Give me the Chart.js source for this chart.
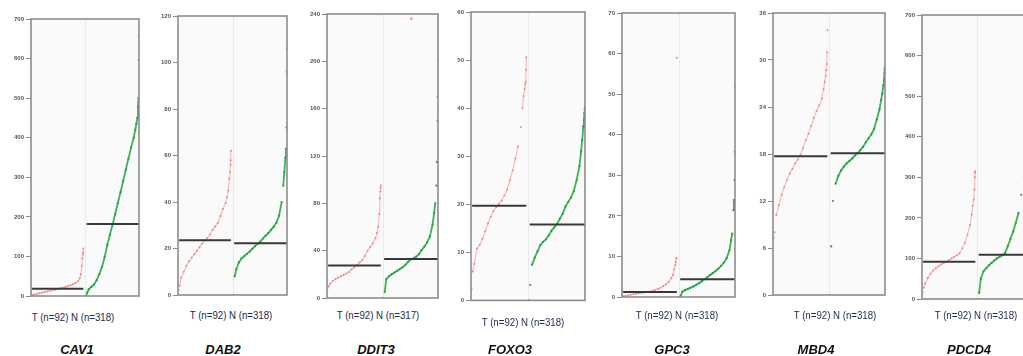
<!DOCTYPE html>
<html><head><meta charset="utf-8">
<script src="https://cdn.jsdelivr.net/npm/chart.js@4.4.1/dist/chart.umd.min.js"></script>
<style>
html,body{margin:0;padding:0;background:#fff;}
body{width:1023px;height:356px;overflow:hidden;position:relative;}
canvas{position:absolute;top:0;}
.nlab{position:absolute;font-family:"Liberation Sans",Arial,sans-serif;font-size:11.5px;color:#1d2b4a;white-space:nowrap;transform:translate(-50%,-50%) scaleX(0.84);}
.gene{position:absolute;font-family:"Liberation Sans",Arial,sans-serif;font-size:13px;font-weight:bold;font-style:italic;color:#111;white-space:nowrap;transform:translate(-50%,-50%);}
</style></head><body>
<script>
// ---------- DATA ----------
const genes = ['CAV1','DAB2','DDIT3','FOXO3','GPC3','MBD4','PDCD4'];
const tCounts = [92,92,92,92,92,92,92];
const nCounts = [318,318,317,318,318,318,318];
const yMax  = [700,120,240,60,70,36,700];
const yStep = [100,20,40,10,10,6,100];
// rank positions (fraction of sorted samples) at which values were read
const percentiles = [0,.02,.05,.1,.15,.2,.25,.3,.35,.4,.45,.5,.55,.6,.65,.7,.75,.8,.85,.9,.93,.95,.97,.98,.99,.995,1];

const cav1T  = [1,2,3,5,7,8.5,10,11.5,13,14.5,16,18,19.5,21,23,25,27,30,33,38,45,55,75,95,105,110,120];
const cav1N  = [0,8,17,23,29,40,55,73,98,128,155,180,207,235,262,290,319,347,375,400,420,435,450,478,500,597,656];
const dab2T  = [2,4,7.5,10,12.5,14.5,16,17.5,19,20.5,22,23.5,24.5,26,28,29.5,31,34,37,39.5,42,45,50,53,56,58,62];
const dab2N  = [0,8,11,14,15.8,16.7,17.7,18.7,19.8,21,22,23,24.3,25.5,26.6,28,29.3,31,34,40,47,53,59,63,72,96,106];
const ddit3T = [8.5,10,12,14.5,16,17.2,18.3,19.5,20.6,22,24,26,27.8,30,32,35.5,40,43,46,50.5,55,60,71,84,90,93,95];
const ddit3N = [0,5,16,18.4,20,21.5,23,24.5,26,28,30.5,32.5,33.5,35,37,40.5,43.5,47,52,62,72,80,95,115,150,170,201];
const foxo3T = [2.4,6,7.6,10.8,11.6,12.8,14.4,16,17.4,18.6,19.4,20,20.8,21.8,23,25,27,29.5,32,36,40,42.5,44,45,45.5,48,50.6];
const foxo3N = [0,3.2,7.4,8.9,10.2,11.5,12.2,12.7,13.5,14.5,15.2,15.9,17,18,19.5,20.5,21.4,22.8,25,27.9,31,33.4,36.2,37.5,39,39.8,40.3];
const gpc3T  = [0.1,0.16,0.25,0.4,0.55,0.66,0.78,0.9,1.02,1.12,1.22,1.32,1.5,1.75,2,2.3,2.7,3.1,3.7,4.6,5.5,6.8,7.8,8.6,9.5,9.6,59];
const gpc3N  = [0,0.3,1.3,1.7,2,2.3,2.6,3,3.4,3.9,4.4,4.9,5.4,5.9,6.4,7,7.7,8.5,9.6,11.5,14,15.6,21.4,23.9,28.8,35.8,51.9];
const mbd4T  = [7.3,8,10.2,11.5,12.8,13.8,14.7,15.5,16.1,16.8,17.3,17.9,18.8,19.8,20.6,21.6,22.6,23.5,24.2,25.1,26.3,27.2,28,28.7,29.5,31,33.8];
const mbd4N  = [0,6.2,12,14.2,15.2,15.9,16.4,16.8,17.1,17.4,17.8,18.1,18.5,18.9,19.5,20,20.5,21.2,22.4,23.7,24.9,25.7,26.8,27.4,28.3,28.8,29.1];
const pdcd4T = [18,28,38,52,62,70,76,81,85,89,92,96,100,104,108,113,125,138,158,183,208,230,245,270,300,311,315];
const pdcd4N = [0,15,50,68,76,83,89,95,100,104,108,113,130,148,166,188,212,257,300,350,380,420,460,490,520,560,600];
const tMedians = [18.6,23.6,27.4,19.7,1.24,17.7,92];
const nMedians = [182,22.3,33.0,15.8,4.4,18.1,109];
// a single stray tumour point drawn in the DDIT3 normal half
const ddit3Stray = [{x:1.52, y:236}];

const tSeries = [cav1T,dab2T,ddit3T,foxo3T,gpc3T,mbd4T,pdcd4T];
const nSeries = [cav1N,dab2N,ddit3N,foxo3N,gpc3N,mbd4N,pdcd4N];
const straySeries = [[],[],ddit3Stray,[],[],[],[]];

// ---------- LAYOUT ----------
const panelBoxes = [
  {l:31,r:140,t:19,b:296},{l:178,r:288,t:16,b:295},{l:327,r:439,t:14,b:298},
  {l:471,r:586,t:12,b:302},{l:622,r:736,t:13,b:297},{l:773,r:886,t:13,b:295},
  {l:922,r:1033,t:15,b:299}];
const labelPos = [[73,317],[231,315],[378,315],[523,322],[677,315],[835,315],[976,315]];
const genePos  = [[77,349],[223,349],[376,349],[510,349],[672,349],[816,349],[969,349]];
const H = 306, AXW = 30;

const framePlugin = {
  id:'frame',
  beforeDatasetsDraw(chart){
    const {ctx, chartArea:a, scales:{x}} = chart;
    ctx.save();
    ctx.fillStyle='#fafafa';
    ctx.fillRect(a.left,a.top,a.right-a.left,a.bottom-a.top);
    const mx = Math.round(x.getPixelForValue(1))+0.5;
    ctx.strokeStyle='#e9e9e9'; ctx.lineWidth=1;
    ctx.beginPath(); ctx.moveTo(mx,a.top); ctx.lineTo(mx,a.bottom); ctx.stroke();
    ctx.restore();
  },
  afterDatasetsDraw(chart){
    const {ctx, chartArea:a} = chart;
    ctx.save(); ctx.strokeStyle='#8c8c8c'; ctx.lineWidth=1.6;
    ctx.strokeRect(a.left,a.top,a.right-a.left,a.bottom-a.top); ctx.restore();
  }
};

// isolated samples (lowest outlier, sparse tails) are shown as dots only
function gapColor(col){
  return ctx => {
    const dy = Math.abs(ctx.p1.y-ctx.p0.y);
    return (dy > 16 || (ctx.p0DataIndex === 0 && dy > 4)) ? 'rgba(0,0,0,0)' : col;
  };
}

genes.forEach((g,i)=>{
  const box = panelBoxes[i];
  const left = box.l - AXW;
  const width = box.r - left + 3;
  const c = document.createElement('canvas');
  c.width = width; c.height = H;
  c.style.left = left+'px'; c.style.width = width+'px'; c.style.height = H+'px';
  document.body.appendChild(c);

  const tData = percentiles.map((p,k)=>({x:0.01+p*0.96, y:tSeries[i][k]}));
  const nData = percentiles.map((p,k)=>({x:1.02+p*0.98, y:nSeries[i][k]}));

  new Chart(c,{
    type:'scatter',
    data:{datasets:[
      {data:[{x:0.02,y:tMedians[i]},{x:0.97,y:tMedians[i]}],showLine:true,borderColor:'#383838',borderWidth:2,pointRadius:0},
      {data:[{x:1.03,y:nMedians[i]},{x:2,y:nMedians[i]}],showLine:true,borderColor:'#383838',borderWidth:2,pointRadius:0},
      {data:straySeries[i],pointRadius:1.2,pointBackgroundColor:'#f08080',pointBorderWidth:0},
      {data:tData,showLine:true,borderColor:'#f7b6b6',borderWidth:1.1,pointRadius:1,pointBackgroundColor:'#f08585',pointBorderWidth:0,segment:{borderColor:gapColor('#f7b6b6')}},
      {data:nData,showLine:true,borderColor:'#3cb356',borderWidth:1.8,pointRadius:1.1,pointBackgroundColor:'#22a043',pointBorderWidth:0,segment:{borderColor:gapColor('#3cb356')}}
    ]},
    options:{
      responsive:false, animation:false, devicePixelRatio:1,
      layout:{padding:{left:0,right:3,top:box.t,bottom:H-box.b}},
      plugins:{legend:{display:false},tooltip:{enabled:false}},
      scales:{
        x:{type:'linear',min:0,max:2,display:false},
        y:{min:0,max:yMax[i],afterFit:s=>{s.width=AXW;},
           ticks:{stepSize:yStep[i],color:'#555',padding:2,font:{size:6,weight:'bold',family:'"Liberation Sans",Arial'}},
           grid:{drawOnChartArea:false,drawTicks:true,tickLength:5,color:'#8a8a8a',lineWidth:1},
           border:{display:false}}
      }
    },
    plugins:[framePlugin]
  });

  const lab = document.createElement('div');
  lab.className='nlab';
  lab.textContent = `T (n=${tCounts[i]}) N (n=${nCounts[i]})`;
  lab.style.left = labelPos[i][0]+'px'; lab.style.top = labelPos[i][1]+'px';
  document.body.appendChild(lab);

  const gl = document.createElement('div');
  gl.className='gene'; gl.textContent = g;
  gl.style.left = genePos[i][0]+'px'; gl.style.top = genePos[i][1]+'px';
  document.body.appendChild(gl);
});
</script>
</body></html>
